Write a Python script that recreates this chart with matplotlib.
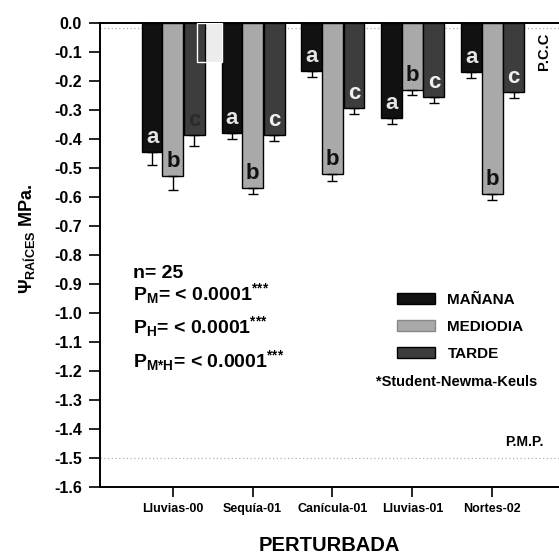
import numpy as np
import matplotlib
matplotlib.use("Agg")
import matplotlib.pyplot as plt
from matplotlib.patches import Patch, Rectangle

plt.rcParams['font.family'] = ['Liberation Sans', 'DejaVu Sans']
plt.rcParams['font.weight'] = 'bold'
plt.rcParams['mathtext.fontset'] = 'custom'
plt.rcParams['mathtext.rm'] = 'Liberation Sans:bold'
plt.rcParams['mathtext.bf'] = 'Liberation Sans:bold'
plt.rcParams['mathtext.it'] = 'Liberation Sans:bold'
plt.rcParams['mathtext.default'] = 'bf'

periodos = ['Lluvias-00', 'Sequía-01', 'Canícula-01', 'Lluvias-01', 'Nortes-02']
horarios = ['MAÑANA', 'MEDIODIA', 'TARDE']

# potencial hidrico de raices (MPa) y error estandar
manana = [-0.445, -0.381, -0.167, -0.330, -0.169]
mediodia = [-0.527, -0.571, -0.523, -0.232, -0.590]
tarde = [-0.387, -0.387, -0.293, -0.255, -0.238]
err_manana = [0.045, 0.020, 0.021, 0.019, 0.023]
err_mediodia = [0.050, 0.020, 0.023, 0.019, 0.022]
err_tarde = [0.037, 0.020, 0.022, 0.021, 0.020]

# letras de la prueba de Student-Newman-Keuls
letras = ['a', 'b', 'c']

colores = ['#111111', '#a9a9a9', '#3d3d3d']
color_letra = ['#e4e4e4', '#111111', '#f0f0f0']

fig = plt.figure(figsize=(5.59, 5.54), dpi=100)
ax = fig.add_axes([100 / 559, 1 - 486.7 / 554, 1 - 100 / 559, (486.7 - 22.7) / 554])

x = np.arange(len(periodos))
ancho = 0.26
series = [manana, mediodia, tarde]
errores = [err_manana, err_mediodia, err_tarde]
desplaz = [-ancho, 0, ancho + 0.01]

for k in range(3):
    vals = np.array(series[k])
    err = np.array(errores[k])
    ax.bar(x + desplaz[k], vals, ancho, color=colores[k], edgecolor='black', linewidth=1.0,
           yerr=[err, np.zeros_like(err)], capsize=3.5,
           error_kw=dict(ecolor='black', elinewidth=1.0, capthick=1.0), zorder=3)
    for i in range(len(periodos)):
        c = color_letra[k]
        if k == 2 and i == 0:
            c = '#2a2a2a'
        ax.text(x[i] + desplaz[k], vals[i] + 0.05, letras[k], ha='center', va='center',
                fontsize=16, fontweight='bold', color=c, zorder=5)

# mancha clara sobre la primera barra de la tarde
ax.add_patch(Rectangle((0.425, -0.135), 0.185, 0.135, facecolor='#ececec', edgecolor='none', zorder=4))
ax.add_patch(Rectangle((0.30, -0.135), 0.31, 0.135, facecolor='none', edgecolor='white', lw=1.0, zorder=4))

# lineas de referencia P.C.C y P.M.P.
ax.axhline(-0.02, color='#b0b0b0', lw=0.9, ls=(0, (1, 2)), zorder=2)
ax.axhline(-1.5, color='#b0b0b0', lw=0.9, ls=(0, (1, 2)), zorder=2)
ax.text(4.4, -1.446, 'P.M.P.', ha='center', va='center', fontsize=10, fontweight='bold')
ax.text(4.65, -0.10, 'P.C.C', ha='center', va='center', fontsize=10.5, fontweight='bold', rotation=90)

ax.set_xlim(-0.9125, 4.8375)
ax.set_ylim(-1.6, 0.0)
yt = np.round(np.arange(0, -1.65, -0.1), 1)
ax.set_yticks(yt)
ax.set_yticklabels(['%.1f' % v for v in yt])
ax.set_xticks(x)
ax.set_xticklabels(periodos)
ax.tick_params(axis='y', direction='out', length=8, width=1.2, pad=5, labelsize=11.5)
ax.tick_params(axis='x', direction='out', length=7, width=1.2, pad=5, labelsize=9)
for lab in ax.get_xticklabels() + ax.get_yticklabels():
    lab.set_fontweight('bold')
for s in ['left', 'bottom', 'top']:
    ax.spines[s].set_linewidth(1.4)
ax.spines['right'].set_visible(False)

fig.text(27 / 559, 1 - 239 / 554, r'$\Psi_{RAÍCES}$ MPa.', rotation=90, ha='center', va='center',
         fontsize=13, fontweight='bold')
fig.text(329 / 559, 1 - 551 / 554, 'PERTURBADA', ha='center', va='baseline', fontsize=14.5, fontweight='bold')

# estadisticos
estrellas = r'$^{{*}{*}{*}}$'
ax.text(-0.5, -(278 - 22.7) / 290, 'n= 25', fontsize=14, fontweight='bold', va='baseline')
ax.text(-0.5, -(300 - 22.7) / 290, r'P$_{M}$= < 0.0001' + estrellas, fontsize=14, fontweight='bold', va='baseline')
ax.text(-0.5, -(333 - 22.7) / 290, r'P$_{H}$= < 0.0001' + estrellas, fontsize=14, fontweight='bold', va='baseline')
ax.text(-0.5, -(367 - 22.7) / 290, r'P$_{M{*}H}$= < 0.0001' + estrellas, fontsize=14, fontweight='bold',
        va='baseline')

handles = [Patch(facecolor=colores[k], edgecolor='black' if k != 1 else '#888888') for k in range(3)]
fig.legend(handles, horarios, loc='upper left', bbox_to_anchor=(397 / 559, 1 - 293 / 554),
           frameon=False, fontsize=11, handlelength=2.5, handleheight=0.7,
           labelspacing=0.85, handletextpad=0.8, borderpad=0, borderaxespad=0)
fig.text(376 / 559, 1 - 382 / 554, '*Student-Newma-Keuls', ha='left', va='center', fontsize=10.5,
         fontweight='bold')

fig.savefig('out.png', dpi=100, facecolor='white')
